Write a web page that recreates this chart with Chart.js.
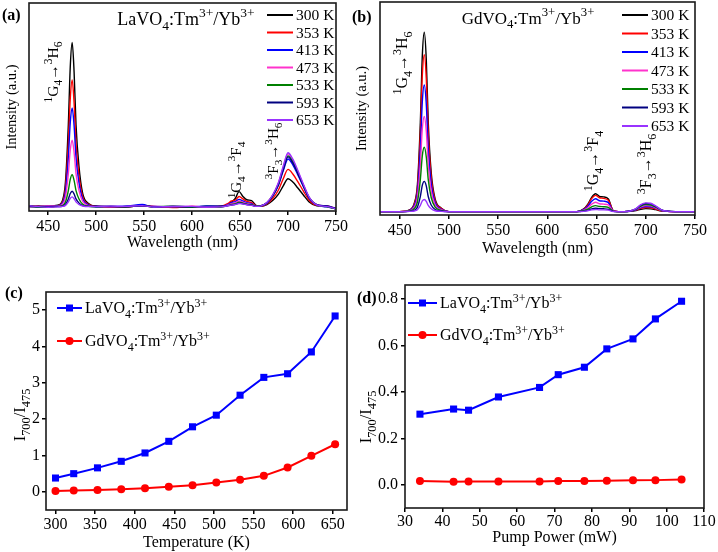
<!DOCTYPE html>
<html>
<head>
<meta charset="utf-8">
<script src="https://cdn.jsdelivr.net/npm/chart.js@4.4.1/dist/chart.umd.min.js"></script>
<style>
  body { margin: 0; background: #fff; }
  #wrap { position: relative; width: 718px; height: 552px; overflow: hidden; }
  canvas { position: absolute; }
  .lab { position: absolute; font: bold 16px "Liberation Serif", serif; color: #000; line-height: 18px; }
</style>
</head>
<body>
<div id="wrap">
  <canvas id="ca" style="left:0;top:0" width="350" height="262"></canvas>
  <canvas id="cb" style="left:350px;top:0" width="368" height="265"></canvas>
  <canvas id="cc" style="left:0;top:270px" width="355" height="282"></canvas>
  <canvas id="cd" style="left:355px;top:270px" width="363" height="282"></canvas>
  <div class="lab" style="left:2px;top:6px">(a)</div>
  <div class="lab" style="left:352px;top:8px">(b)</div>
  <div class="lab" style="left:5px;top:284px">(c)</div>
  <div class="lab" style="left:357px;top:289px">(d)</div>
</div>
<script>
// ---- data ----
const wavelength = [430, 440, 450, 460, 465, 468, 471, 473, 475, 477, 479, 482, 486, 492, 500, 515, 530, 548, 560, 580, 600, 615, 630,
  637, 641, 645, 649, 653, 657, 662, 667, 672, 678, 684, 690, 695, 700, 705, 710, 716, 722, 730, 740, 750];
const wavelengthTicks = [450, 500, 550, 600, 650, 700, 750];
const tempLabels = ["300 K", "353 K", "413 K", "473 K", "533 K", "593 K", "653 K"];

// LaVO4 spectra (a.u.)
const la300 = [2.6, 2.0, 2.3, 2.8, 5.2, 13.9, 41.5, 69.2, 81.0, 66.8, 41.5, 21.8, 8.3, 3.6, 2.1, 1.8, 2.2, 2.5, 1.9, 2.1, 1.8, 2.3, 2.0,
  3.0, 4.2, 6.0, 9.3, 7.0, 5.4, 5.0, 2.6, 2.3, 3.1, 5.0, 8.1, 12.1, 15.5, 13.9, 11.2, 7.7, 4.4, 2.5, 2.2, 1.0];
const la353 = [2.2, 2.4, 1.9, 2.6, 4.4, 11.2, 32.5, 53.9, 63.0, 52.0, 32.5, 17.3, 6.9, 3.2, 2.3, 2.0, 1.8, 2.7, 2.1, 1.7, 2.2, 2.0, 2.3,
  3.5, 4.8, 5.2, 7.0, 5.8, 4.6, 4.0, 2.5, 2.4, 3.4, 6.0, 10.1, 15.5, 20.0, 17.8, 14.2, 9.6, 5.2, 2.7, 2.4, 1.2];
const la413 = [2.4, 1.8, 2.1, 2.5, 3.9, 9.1, 25.8, 42.4, 49.5, 41.0, 25.8, 13.9, 5.8, 3.0, 1.9, 2.2, 2.3, 3.1, 1.8, 2.2, 2.0, 2.4, 2.1,
  3.0, 4.0, 4.5, 5.6, 4.8, 4.0, 3.5, 2.4, 2.5, 3.8, 7.1, 12.4, 19.3, 25.0, 22.2, 17.6, 11.7, 6.1, 2.9, 2.0, 1.1];
const la473 = [2.0, 2.2, 2.5, 2.3, 3.3, 6.8, 18.0, 29.2, 34.0, 28.2, 18.0, 10.0, 4.6, 2.6, 2.2, 1.9, 2.1, 2.4, 2.3, 1.9, 2.3, 1.8, 2.2,
  2.8, 3.5, 4.0, 4.8, 4.2, 3.6, 3.2, 2.3, 2.5, 4.0, 7.6, 13.5, 21.1, 27.5, 24.4, 19.3, 12.7, 6.6, 3.0, 2.3, 1.2];
const la533 = [2.3, 1.9, 2.0, 2.2, 2.6, 4.3, 9.8, 15.2, 17.5, 14.7, 9.8, 5.9, 3.2, 2.3, 2.0, 2.3, 1.9, 2.6, 2.0, 2.4, 1.9, 2.2, 1.9,
  2.6, 3.1, 3.5, 4.2, 3.8, 3.3, 3.0, 2.3, 2.5, 4.0, 7.4, 13.0, 20.4, 26.5, 23.6, 18.7, 12.3, 6.4, 3.0, 2.1, 1.0];
const la593 = [2.1, 2.3, 2.2, 2.1, 2.3, 3.1, 5.8, 8.4, 9.5, 8.2, 5.8, 3.9, 2.6, 2.2, 2.4, 2.1, 2.0, 2.5, 2.2, 2.0, 2.1, 2.1, 2.4,
  2.5, 2.9, 3.2, 3.8, 3.5, 3.1, 2.8, 2.2, 2.5, 3.9, 7.3, 12.8, 20.0, 26.0, 23.1, 18.3, 12.1, 6.3, 3.0, 2.5, 1.3];
const la653 = [2.5, 2.1, 1.8, 2.0, 2.2, 2.7, 4.4, 6.1, 6.8, 5.9, 4.4, 3.2, 2.4, 2.1, 2.1, 2.4, 2.2, 2.6, 1.9, 2.3, 2.2, 1.9, 2.0,
  2.5, 2.8, 3.1, 3.6, 3.4, 3.0, 2.7, 2.2, 2.5, 4.1, 7.7, 13.7, 21.5, 28.0, 24.9, 19.7, 12.9, 6.7, 3.0, 2.2, 1.1];

// GdVO4 spectra (a.u.)
const gd300 = [1.6, 1.6, 1.6, 2.4, 5.8, 14.2, 43.7, 74.9, 85.8, 73.2, 43.7, 20.1, 7.5, 3.3, 1.6, 1.6, 1.6, 1.6, 1.6, 1.6, 1.6, 1.6, 1.6,
  2.9, 5.0, 8.3, 10.0, 8.7, 8.5, 7.5, 2.0, 1.6, 1.6, 1.7, 2.1, 2.7, 3.0, 2.9, 2.5, 1.9, 1.7, 1.6, 1.6, 1.6];
const gd353 = [1.6, 1.6, 1.6, 2.3, 5.3, 12.6, 38.4, 65.6, 75.2, 64.2, 38.4, 17.8, 6.8, 3.1, 1.6, 1.6, 1.6, 1.6, 1.6, 1.6, 1.6, 1.6, 1.6,
  2.7, 4.6, 7.7, 9.2, 8.1, 7.8, 6.9, 2.0, 1.6, 1.6, 1.8, 2.3, 3.1, 3.5, 3.4, 2.8, 2.0, 1.7, 1.6, 1.6, 1.6];
const gd413 = [1.6, 1.6, 1.6, 2.2, 4.6, 10.5, 31.3, 53.3, 61.0, 52.1, 31.3, 14.7, 5.8, 2.8, 1.6, 1.6, 1.6, 1.6, 1.6, 1.6, 1.6, 1.6, 1.6,
  2.5, 4.0, 6.4, 7.6, 6.7, 6.5, 5.8, 1.9, 1.6, 1.6, 1.8, 2.4, 3.5, 4.0, 3.9, 3.2, 2.1, 1.7, 1.6, 1.6, 1.6];
const gd473 = [1.6, 1.6, 1.6, 2.0, 3.8, 8.3, 24.0, 40.5, 46.3, 39.6, 24.0, 11.4, 4.7, 2.5, 1.6, 1.6, 1.6, 1.6, 1.6, 1.6, 1.6, 1.6, 1.6,
  2.3, 3.4, 5.1, 6.0, 5.3, 5.1, 4.7, 1.8, 1.6, 1.6, 1.8, 2.6, 3.8, 4.4, 4.3, 3.4, 2.2, 1.7, 1.6, 1.6, 1.6];
const gd533 = [1.6, 1.6, 1.6, 1.9, 3.1, 6.1, 16.7, 27.9, 31.8, 27.3, 16.7, 8.2, 3.7, 2.2, 1.6, 1.6, 1.6, 1.6, 1.6, 1.6, 1.6, 1.6, 1.6,
  2.0, 2.7, 3.8, 4.4, 4.0, 3.9, 3.6, 1.7, 1.6, 1.6, 1.9, 2.8, 4.2, 4.9, 4.7, 3.7, 2.3, 1.8, 1.6, 1.6, 1.6];
const gd593 = [1.6, 1.6, 1.6, 1.7, 2.3, 3.7, 8.7, 14.0, 15.8, 13.7, 8.7, 4.7, 2.6, 1.9, 1.6, 1.6, 1.6, 1.6, 1.6, 1.6, 1.6, 1.6, 1.6,
  1.8, 2.2, 2.9, 3.2, 3.0, 2.9, 2.7, 1.7, 1.6, 1.6, 1.9, 2.9, 4.6, 5.4, 5.2, 4.1, 2.4, 1.8, 1.6, 1.6, 1.6];
const gd653 = [1.6, 1.6, 1.6, 1.7, 1.9, 2.5, 4.5, 6.6, 7.3, 6.4, 4.5, 2.9, 2.0, 1.7, 1.6, 1.6, 1.6, 1.6, 1.6, 1.6, 1.6, 1.6, 1.6,
  1.7, 2.0, 2.4, 2.6, 2.4, 2.4, 2.3, 1.6, 1.6, 1.6, 1.9, 3.0, 4.9, 5.7, 5.5, 4.3, 2.4, 1.8, 1.6, 1.6, 1.6];

// (c) ratio vs temperature
const temperature = [300, 323, 353, 383, 413, 443, 473, 503, 533, 563, 593, 623, 653];
const temperatureTicks = [300, 350, 400, 450, 500, 550, 600, 650];
const laRatioT = [0.38, 0.50, 0.66, 0.84, 1.07, 1.39, 1.79, 2.11, 2.66, 3.15, 3.25, 3.85, 4.84];
const gdRatioT = [0.02, 0.04, 0.05, 0.07, 0.10, 0.14, 0.18, 0.26, 0.33, 0.44, 0.67, 0.99, 1.31];
const ratioTicksC = [0, 1, 2, 3, 4, 5];

// (d) ratio vs pump power
const pumpPower = [34, 43, 47, 55, 66, 71, 78, 84, 91, 97, 104];
const powerTicks = [30, 40, 50, 60, 70, 80, 90, 100, 110];
const laRatioP = [0.304, 0.326, 0.321, 0.378, 0.419, 0.474, 0.506, 0.585, 0.628, 0.714, 0.790];
const gdRatioP = [0.016, 0.013, 0.014, 0.014, 0.014, 0.016, 0.016, 0.017, 0.019, 0.020, 0.023];
const ratioTicksD = [0, 0.2, 0.4, 0.6, 0.8];

// ---- drawing ----
const serif = '"Liberation Serif", "Times New Roman", serif';
Chart.defaults.font.family = serif;
Chart.defaults.color = "#000";
const tempColors = ["#000000", "#ff0000", "#0000ff", "#ff33cc", "#008000", "#000080", "#9933ff"];

const fixedTicks = values => axis => { axis.ticks = values.map(v => ({ value: v })); };

// text with super/subscripts: parts = [[text, 'n' | 'sup' | 'sub'], ...]
function rich(ctx, parts, x, y, size, rotate, align) {
  const small = size * 0.75;
  const fontOf = k => (k === "n" ? size : small) + "px " + serif;
  let total = 0;
  const widths = parts.map(([t, k]) => { ctx.font = fontOf(k); const w = ctx.measureText(t).width; total += w; return w; });
  ctx.save();
  ctx.translate(x, y);
  if (rotate) ctx.rotate(-Math.PI / 2);
  ctx.fillStyle = "#000";
  ctx.textAlign = "left";
  ctx.textBaseline = "alphabetic";
  let cx = align === "left" ? 0 : -total / 2;
  parts.forEach(([t, k], i) => {
    ctx.font = fontOf(k);
    const dy = k === "sup" ? -size * 0.42 : k === "sub" ? size * 0.28 : 0;
    ctx.fillText(t, cx, size * 0.33 + dy);
    cx += widths[i];
  });
  ctx.restore();
}

const laName = [["LaVO", "n"], ["4", "sub"], [":Tm", "n"], ["3+", "sup"], ["/Yb", "n"], ["3+", "sup"]];
const gdName = [["GdVO", "n"], ["4", "sub"], [":Tm", "n"], ["3+", "sup"], ["/Yb", "n"], ["3+", "sup"]];
const tG4H6 = [["1", "sup"], ["G", "n"], ["4", "sub"], ["\u2192", "n"], ["3", "sup"], ["H", "n"], ["6", "sub"]];
const tG4F4 = [["1", "sup"], ["G", "n"], ["4", "sub"], ["\u2192", "n"], ["3", "sup"], ["F", "n"], ["4", "sub"]];
const tF3H6 = [["3", "sup"], ["F", "n"], ["3", "sub"], ["\u2192", "n"], ["3", "sup"], ["H", "n"], ["6", "sub"]];
const ratioTitle = [["I", "n"], ["700", "sub"], ["/I", "n"], ["475", "sub"]];

function deco(draw) {
  return {
    id: "deco",
    afterDraw(chart) {
      const { ctx, chartArea: a } = chart;
      ctx.save();
      ctx.strokeStyle = "#1a1a1a";
      ctx.lineWidth = 1.6;
      ctx.strokeRect(a.left, a.top, a.right - a.left, a.bottom - a.top);
      ctx.restore();
      draw(ctx, chart);
    }
  };
}

function tempLegend(ctx, chart, x1, x2, y0, step) {
  chart.data.datasets.forEach((ds, i) => {
    const y = y0 + i * step;
    ctx.save();
    ctx.strokeStyle = ds.borderColor;
    ctx.lineWidth = 2;
    ctx.beginPath(); ctx.moveTo(x1, y); ctx.lineTo(x2, y); ctx.stroke();
    ctx.fillStyle = "#000";
    ctx.font = "15.5px " + serif;
    ctx.textBaseline = "middle";
    ctx.fillText(ds.label, x2 + 3, y + 1);
    ctx.restore();
  });
}

function spectrumChart(id, series, o) {
  return new Chart(document.getElementById(id), {
    type: "line",
    data: {
      datasets: series.map((vals, i) => ({
        label: tempLabels[i],
        data: vals.map((v, j) => ({ x: wavelength[j], y: v })),
        borderColor: tempColors[i],
        borderWidth: 1.4,
        pointRadius: 0,
        cubicInterpolationMode: "monotone",
        order: series.length - i
      }))
    },
    options: {
      responsive: false,
      animation: false,
      layout: { padding: { top: o.top, right: o.right, left: 0, bottom: 0 } },
      plugins: { legend: { display: false }, tooltip: { enabled: false } },
      scales: {
        x: {
          type: "linear", min: 430, max: 750,
          afterBuildTicks: fixedTicks(wavelengthTicks),
          afterFit: s => { s.height = o.xh; },
          grid: { drawOnChartArea: false, tickLength: 4, color: "#000", lineWidth: 1.5 },
          border: { display: false },
          ticks: { font: { size: 16 }, padding: o.tickPad, maxRotation: 0, autoSkip: false },
          title: { display: true, text: "Wavelength (nm)", font: { size: 16 }, padding: { top: 0, bottom: o.xTitlePad } }
        },
        y: {
          min: 0, max: 100,
          afterFit: s => { s.width = o.yw; },
          grid: { display: false },
          border: { display: false },
          ticks: { display: false },
          title: { display: true, text: "Intensity (a.u.)", font: { size: 14.5 }, padding: { top: o.yTitlePad, bottom: 0 } }
        }
      }
    },
    plugins: [deco(o.draw)]
  });
}

spectrumChart("ca", [la300, la353, la413, la473, la533, la593, la653], {
  top: 3, right: 9, xh: 51, yw: 29, tickPad: 2, xTitlePad: 10, yTitlePad: 3,
  draw(ctx, chart) {
    tempLegend(ctx, chart, 267, 293, 15, 17.5);
    rich(ctx, laName, 186, 19, 18);
    rich(ctx, tG4H6, 53, 72, 15.5, true);
    rich(ctx, tG4F4, 236, 170, 15, true);
    rich(ctx, tF3H6, 273, 151, 15, true);
  }
});

spectrumChart("cb", [gd300, gd353, gd413, gd473, gd533, gd593, gd653], {
  top: 2, right: 23, xh: 50, yw: 30, tickPad: 2, xTitlePad: 7, yTitlePad: 3,
  draw(ctx, chart) {
    tempLegend(ctx, chart, 272, 298, 15, 18.5);
    rich(ctx, gdName, 178, 18, 17);
    rich(ctx, tG4H6, 52, 63, 16, true);
    rich(ctx, tG4F4, 243, 161, 16, true);
    rich(ctx, tF3H6, 296, 164, 16, true);
  }
});

function ratioChart(id, xs, la, gd, o) {
  return new Chart(document.getElementById(id), {
    type: "line",
    data: {
      datasets: [
        { label: "La", data: xs.map((x, i) => ({ x, y: la[i] })), borderColor: "#0000ff", backgroundColor: "#0000ff",
          borderWidth: 2, pointStyle: "rect", pointRadius: 5, pointBorderWidth: 0, tension: 0 },
        { label: "Gd", data: xs.map((x, i) => ({ x, y: gd[i] })), borderColor: "#ff0000", backgroundColor: "#ff0000",
          borderWidth: 2, pointStyle: "circle", pointRadius: 4, pointBorderWidth: 0, tension: 0 }
      ]
    },
    options: {
      responsive: false,
      animation: false,
      layout: { padding: { top: o.top, right: o.right, left: 0, bottom: 0 } },
      plugins: { legend: { display: false }, tooltip: { enabled: false } },
      scales: {
        x: {
          type: "linear", min: o.xmin, max: o.xmax,
          afterBuildTicks: fixedTicks(o.xticks),
          afterFit: s => { s.height = o.xh; },
          grid: { drawOnChartArea: false, tickLength: 4, color: "#000", lineWidth: 1.5 },
          border: { display: false },
          ticks: { font: { size: 16 }, padding: o.tickPad, maxRotation: 0, autoSkip: false },
          title: { display: true, text: o.xtitle, font: { size: 16 }, padding: { top: 0, bottom: o.xTitlePad } }
        },
        y: {
          min: o.ymin, max: o.ymax,
          afterBuildTicks: fixedTicks(o.yticks),
          afterFit: s => { s.width = o.yw; },
          grid: { drawOnChartArea: false, tickLength: 4, color: "#000", lineWidth: 1.5 },
          border: { display: false },
          ticks: { font: { size: 16 }, padding: o.yTickPad, callback: o.yfmt }
        }
      }
    },
    plugins: [deco((ctx, chart) => {
      const ds = chart.data.datasets;
      [laName, gdName].forEach((name, i) => {
        const y = o.legY[i];
        ctx.save();
        ctx.strokeStyle = ds[i].borderColor;
        ctx.fillStyle = ds[i].borderColor;
        ctx.lineWidth = 2;
        ctx.beginPath(); ctx.moveTo(o.legX[0], y); ctx.lineTo(o.legX[1], y); ctx.stroke();
        const mx = (o.legX[0] + o.legX[1]) / 2;
        ctx.beginPath();
        if (i === 0) ctx.rect(mx - 3.5, y - 3.5, 7, 7); else ctx.arc(mx, y, 4, 0, Math.PI * 2);
        ctx.fill();
        ctx.restore();
        rich(ctx, name, o.legX[1] + 3, y, 16, false, "left");
      });
      rich(ctx, ratioTitle, o.yTitle[0], o.yTitle[1], 16.5, true);
    })]
  });
}

ratioChart("cc", temperature, laRatioT, gdRatioT, {
  top: 22, right: 8, xh: 42, yw: 46, tickPad: 1, yTickPad: 2, xTitlePad: 0,
  xmin: 288, xmax: 668, xticks: temperatureTicks, ymin: -0.5, ymax: 5.5, yticks: ratioTicksC,
  xtitle: "Temperature (K)", yfmt: v => String(v),
  legX: [57, 82], legY: [38, 71], yTitle: [20, 145]
});

ratioChart("cd", pumpPower, laRatioP, gdRatioP, {
  top: 15, right: 14, xh: 44, yw: 50, tickPad: 0, yTickPad: 3, xTitlePad: 5,
  xmin: 30, xmax: 110, xticks: powerTicks, ymin: -0.1, ymax: 0.86, yticks: ratioTicksD,
  xtitle: "Pump Power (mW)", yfmt: v => v.toFixed(1),
  legX: [53, 82], legY: [33, 65], yTitle: [11, 147]
});
</script>
</body>
</html>
